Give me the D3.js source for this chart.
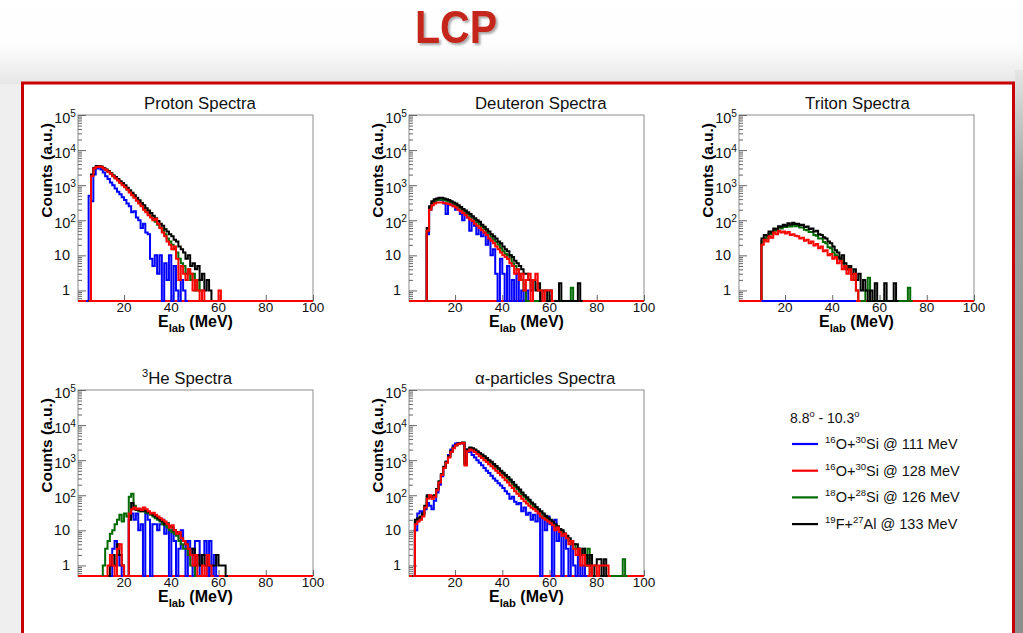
<!DOCTYPE html>
<html>
<head>
<meta charset="utf-8">
<script src="https://cdn.jsdelivr.net/npm/d3@7"></script>
<style>
body { margin: 0; background: #fff; }
svg { display: block; font-family: "Liberation Sans", Arial, sans-serif; }
text { white-space: pre; }
</style>
</head>
<body>
<svg id="chart" width="1023" height="633"></svg>
<script>
// ---- data (1 MeV bins, value per bin, first bin energy in *From) ----
// series order everywhere: blue, red, green, black
const seriesKeys = ["blue", "red", "green", "black"];
const legendLabels = ["^{16}O+^{30}Si @ 111 MeV", "^{16}O+^{30}Si @ 128 MeV", "^{18}O+^{28}Si @ 126 MeV", "^{19}F+^{27}Al @ 133 MeV"];
const angleLabel = "8.8^{o} - 10.3^{o}";
const panelTitles = ["Proton Spectra", "Deuteron Spectra", "Triton Spectra", "^{3}He Spectra", "α-particles Spectra"];
const xTicks = [20, 40, 60, 80, 100];
const yMajor = [1, 10, 100, 1000, 10000, 100000];
const yMajorLabels = ["1", "10", "10^{2}", "10^{3}", "10^{4}", "10^{5}"];

// proton
const protonFrom = [4, 5, 5, 5];
const protonBlue = [0,500,350,2000,3000,3200,2800,2300,1800,1500,1200,1000,800,650,550,450,380,300,250,170,180,120,100,60,80,45,40,8,5,10,3,10,0,6,2,10,0,5,1,0,2,1,0];
const protonRed = [0,1800,3000,3300,3400,3300,3000,2700,2400,2100,1800,1550,1350,1150,1000,870,740,620,520,440,360,300,250,200,170,140,120,100,110,80,60,45,35,25,20,15,18,8,2,5,3,2,4,3,1,2,1,0,1,0,0,0,0,0,0,1,0];
const protonGreen = [0,1900,3000,3300,3400,3300,3050,2750,2450,2150,1850,1600,1400,1200,1050,900,770,650,550,460,380,320,270,220,185,155,130,110,90,75,60,50,40,30,25,20,15,12,8,6,5,3,4,2,3,1,2,1,0];
const protonBlack = [0,2000,3100,3500,3500,3400,3100,2800,2500,2200,1900,1700,1500,1300,1150,1000,850,720,610,520,440,370,310,270,220,190,160,135,115,95,80,70,55,48,40,35,28,25,18,15,12,8,10,5,6,4,5,2,3,1,2,1,0];

// deuteron
const deuteronFrom = [7, 7, 7, 7];
const deuteronBlue = [0,40,200,300,350,380,400,380,300,150,300,280,250,200,230,150,100,160,120,50,90,70,40,60,35,45,20,30,10,15,3,0,8,3,0,5,0,2,0,3,0,1,0,1,0];
const deuteronRed = [0,50,200,270,300,320,320,320,310,300,290,270,250,230,200,180,160,140,120,105,95,80,70,60,52,45,38,30,26,22,18,15,12,10,9,8,6,5,3,4,2,3,1,2,3,0,2,3,1,1,0,1,1,1,0];
const deuteronGreen = [0,50,220,320,360,380,390,390,380,360,340,320,300,270,240,215,190,170,150,130,115,100,88,76,65,56,48,40,34,28,24,20,16,13,11,8,10,6,5,4,3,2,1,0,0,0,0,0,0,0,0,0,0,0,0,0,0,0,0,0,0,0,1.2,0];
const deuteronBlack = [0,60,250,350,400,420,440,440,420,400,380,350,320,300,270,240,210,190,170,150,130,115,100,90,75,65,55,48,40,35,30,25,22,18,15,13,10,9,7,6,5,4,3,3,2,1,2,1,1.6,0,1,1,0,1,0,0,0,1.6,0,0,0,0,0,0,0,1.6,0];

// triton
const tritonFrom = [10, 9, 9, 9];
const tritonBlue = [0,0,0,0,0,0,0,0,0,0,0,0,0,0,0,0,0,0,0,0,0,0,0,0,0,0,0,0,0,0,0,0,0,0,0,0,0,0,0,0];
const tritonRed = [0,20,28,25,35,32,45,40,50,45,48,42,46,38,40,36,35,30,32,26,28,22,25,19,21,16,18,13,14,10,11,8,9,6,7,4,5,3,4,2,3,1,0];
const tritonGreen = [0,25,32,30,42,40,52,50,62,58,68,64,72,66,74,68,70,62,62,54,52,46,46,38,36,30,30,24,22,17,16,12,10,9,8,6,5,4,5,3,2,1,0,0,0,1,2.3,0,0,0,0,0,0,0,0,0,0,0,0,0,0,0,0,1.2,0];
const tritonBlack = [0,30,38,36,48,45,58,55,68,65,75,70,82,76,85,78,80,72,74,64,66,56,58,48,50,40,38,33,30,25,22,18,14,12,8,10,6,4,5,3,4,2,3,1,2,1,0,1,0,1.6,0,0,0,1.6,0,0,0,1.6,0];

// 3He
const heFrom = [14, 12, 11, 13];
const heBlue = [0,3,5,2,1,0,0,0,25,30,20,30,10,15,0,30,20,0,15,15,10,15,20,8,15,0,10,5,0,3,10,5,0,5,3,0,5,5,0,2,5,0,5,0,2,0];
const heRed = [0,1,2,1,0,3,4,1,0,0,30,40,45,40,42,38,45,40,35,30,32,28,25,22,20,18,15,12,14,10,8,9,6,5,4,3,2,1,2,0,0,1,0,2,1,0];
const heGreen = [1,3,5,8,10,15,20,28,18,30,25,90,110,50,40,35,38,35,32,30,28,25,22,20,18,15,14,12,10,9,8,7,5,4,3,3,2,1,1,0];
const heBlack = [0,1,2,1,4,2,1,0,0,20,60,40,38,40,35,38,35,33,30,28,25,22,20,18,15,16,13,12,10,9,8,6,5,4,3,2,3,1,2,1,2,1,2,1,1,1,2,1,1,1,0];

// alpha
const alphaFrom = [2, 2, 2, 2];
const alphaBlue = [0,10,30,35,30,40,60,50,40,70,120,200,350,600,900,1400,2000,2600,3000,3100,3100,3000,1200,2000,1700,1400,1200,1000,850,720,600,500,430,360,300,260,220,190,160,130,110,80,90,65,55,60,35,45,28,32,20,28,18,30,0,25,10,25,15,0,20,5,10,0,8,3,0,5,1,0,3,0,1,0];
const alphaRed = [0,15,18,20,25,45,80,100,80,90,140,230,380,600,850,1200,1700,2200,2600,2900,3000,3100,700,1800,2000,1900,1700,1500,1300,1150,1000,880,770,670,580,500,430,370,320,270,230,190,160,130,110,95,80,68,58,50,44,40,35,30,25,22,20,18,16,14,10,12,9,7,8,6,4,5,3,2,3,1,2,1,1,0,1,1,0,1,1,1,1,0];
const alphaGreen = [0,18,20,22,28,48,90,95,90,95,145,240,390,620,870,1250,1750,2250,2650,2950,3100,3150,750,1900,2200,2100,1900,1700,1500,1350,1200,1050,920,820,710,620,540,460,400,340,300,250,210,180,150,125,105,90,78,66,56,48,42,36,31,27,23,20,18,15,13,11,10,9,8,6,5,4,4,3,3,2,3,1,3,0,0,0,0,0,0,0,0,0,0,0,0,0,0,1.5,0];
const alphaBlack = [0,20,22,25,30,50,100,90,95,100,150,250,400,650,900,1300,1800,2300,2700,3000,3100,3200,800,2000,2300,2200,2000,1800,1600,1450,1300,1150,1000,900,780,680,590,500,440,380,330,280,240,200,170,145,120,100,88,75,62,55,46,40,35,30,26,23,20,18,15,13,11,10,8,7,6,5,4,4,3,2,3,2,1,2,0,1,1.5,1.5,0,1.5,0];

// ---- layout ----
const colours = { blue: "#0000ff", red: "#ff0000", green: "#006a00", black: "#000000" };
const pw = 235, ph = 186;
const xDomain = [0.5, 100], yDomain = [0.5, 100000];

const panels = [
  { title: panelTitles[0], x0: 78, y0: 115, from: protonFrom, vals: [protonBlue, protonRed, protonGreen, protonBlack], order: ["blue", "green", "black", "red"] },
  { title: panelTitles[1], x0: 409, y0: 115, from: deuteronFrom, vals: [deuteronBlue, deuteronRed, deuteronGreen, deuteronBlack], order: ["blue", "green", "black", "red"] },
  { title: panelTitles[2], x0: 739, y0: 115, from: tritonFrom, vals: [tritonBlue, tritonRed, tritonGreen, tritonBlack], order: ["green", "black", "red", "blue"] },
  { title: panelTitles[3], x0: 78, y0: 390, from: heFrom, vals: [heBlue, heRed, heGreen, heBlack], order: ["blue", "green", "black", "red"] },
  { title: panelTitles[4], x0: 409, y0: 390, from: alphaFrom, vals: [alphaBlue, alphaRed, alphaGreen, alphaBlack], order: ["blue", "green", "black", "red"] }
];

const svg = d3.select("#chart");

// write text with ^{sup} and _{sub} pieces
function rich(sel, str, size, supScale) {
  const parts = str.split(/(\^\{[^}]*\}|_\{[^}]*\})/).filter(s => s.length);
  let prev = 0;
  parts.forEach(s => {
    let dy = 0, fs = size, t = s;
    if (s.startsWith("^{")) { t = s.slice(2, -1); fs = size * (supScale || 0.66); dy = -size * 0.42; }
    else if (s.startsWith("_{")) { t = s.slice(2, -1); fs = size * 0.7; dy = size * 0.32; }
    sel.append("tspan").attr("dy", dy - prev).attr("font-size", fs).text(t);
    prev = dy;
  });
  return sel;
}

// ---- page background ----
const defs = svg.append("defs");
const topGrad = defs.append("linearGradient").attr("id", "topGrad").attr("x1", 0).attr("y1", 0).attr("x2", 0).attr("y2", 1);
topGrad.append("stop").attr("offset", "0%").attr("stop-color", "#ffffff");
topGrad.append("stop").attr("offset", "55%").attr("stop-color", "#fdfdfd");
topGrad.append("stop").attr("offset", "100%").attr("stop-color", "#e6e6e6");
const sideGrad = defs.append("linearGradient").attr("id", "sideGrad").attr("x1", 0).attr("y1", 0).attr("x2", 0).attr("y2", 1);
sideGrad.append("stop").attr("offset", "0%").attr("stop-color", "#e6e6e6");
sideGrad.append("stop").attr("offset", "20%").attr("stop-color", "#a0a0a0");
sideGrad.append("stop").attr("offset", "100%").attr("stop-color", "#8c8c8c");
const shadow = defs.append("filter").attr("id", "shadow").attr("x", "-20%").attr("y", "-20%").attr("width", "140%").attr("height", "140%");
shadow.append("feDropShadow").attr("dx", 2).attr("dy", 2).attr("stdDeviation", 1.2).attr("flood-color", "#000").attr("flood-opacity", 0.35);

svg.append("rect").attr("width", 1023).attr("height", 633).attr("fill", "#efefef");
svg.append("rect").attr("width", 1023).attr("height", 84).attr("fill", "url(#topGrad)");
svg.append("rect").attr("x", 1015).attr("y", 70).attr("width", 8).attr("height", 563).attr("fill", "url(#sideGrad)");

svg.append("text").attr("x", 456).attr("y", 43).attr("text-anchor", "middle")
  .attr("font-family", "'Liberation Sans Narrow', 'Liberation Sans', Arial, sans-serif")
  .attr("font-weight", "bold").attr("font-size", 46).attr("fill", "#c4281c")
  .attr("textLength", 82).attr("lengthAdjust", "spacingAndGlyphs")
  .attr("filter", "url(#shadow)").text("LCP");

svg.append("rect").attr("x", 22.5).attr("y", 83).attr("width", 991).attr("height", 600)
  .attr("fill", "#ffffff").attr("stroke", "#c80000").attr("stroke-width", 3);

// ---- panels ----
panels.forEach((p, pi) => {
  const g = svg.append("g");
  const x = d3.scaleLinear().domain(xDomain).range([p.x0, p.x0 + pw]);
  const y = d3.scaleLog().domain(yDomain).range([p.y0 + ph, p.y0]).clamp(true);
  const yb = p.y0 + ph;

  g.append("rect").attr("x", p.x0).attr("y", p.y0).attr("width", pw).attr("height", ph)
    .attr("fill", "none").attr("stroke", "#8c8c8c").attr("stroke-width", 1);

  // log minor ticks
  const minor = [];
  for (let e = -1; e < 5; e++) for (let m = 2; m <= 9; m++) {
    const v = m * Math.pow(10, e);
    if (v >= yDomain[0] && v <= yDomain[1]) minor.push(v);
  }
  const yMinorAxis = d3.axisRight(y).tickValues(minor).tickSize(4).tickFormat("");
  const yMajorAxis = d3.axisRight(y).tickValues(yMajor).tickSize(8).tickFormat("");
  [yMinorAxis, yMajorAxis].forEach(ax => {
    const a = g.append("g").attr("transform", `translate(${p.x0},0)`).call(ax);
    a.select(".domain").remove();
    a.selectAll("line").attr("stroke", "#666");
  });
  const xAxis = d3.axisTop(x).tickValues(xTicks).tickSize(6).tickFormat("");
  const xa = g.append("g").attr("transform", `translate(0,${yb})`).call(xAxis);
  xa.select(".domain").remove();
  xa.selectAll("line").attr("stroke", "#666");

  // tick labels
  xTicks.forEach(v => {
    g.append("text").attr("x", x(v)).attr("y", yb + 10.5).attr("text-anchor", "middle")
      .attr("font-size", 13.5).attr("fill", "#111").text(v);
  });
  yMajor.forEach((v, i) => {
    const lab = yMajorLabels[i];
    const t = g.append("text").attr("text-anchor", "end").attr("fill", "#111");
    if (lab.includes("^")) {
      t.attr("x", p.x0 - 2).attr("y", y(v) + 8);
      rich(t, lab, 14.5, 0.7);
    } else {
      t.attr("x", p.x0 - 8).attr("y", y(v) + 5).attr("font-size", 14.5).text(lab);
    }
  });

  // titles
  const tt = g.append("text").attr("x", p.x0 + (pi === 3 ? 64 : 66)).attr("y", p.y0 - 6)
    .attr("font-size", 16.8).attr("fill", "#111");
  rich(tt, p.title, 16.8);
  g.append("text").attr("transform", `translate(${p.x0 - 26},${p.y0 + 8}) rotate(-90)`)
    .attr("text-anchor", "end").attr("font-weight", "bold").attr("font-size", 15.5).attr("fill", "#000")
    .text("Counts (a.u.)");
  const xl = g.append("text").attr("x", p.x0 + pw / 2).attr("y", yb + 26).attr("text-anchor", "middle")
    .attr("font-weight", "bold").attr("fill", "#000");
  rich(xl, "E_{lab} (MeV)", 16);

  // histograms
  const clipId = "clip" + pi;
  defs.append("clipPath").attr("id", clipId).append("rect")
    .attr("x", p.x0).attr("y", p.y0 - 1).attr("width", pw).attr("height", ph + 3);
  const plot = g.append("g").attr("clip-path", `url(#${clipId})`);
  plot.append("line").attr("x1", p.x0).attr("x2", p.x0 + pw).attr("y1", yb).attr("y2", yb)
    .attr("stroke", colours.red).attr("stroke-width", 2);
  const line = d3.line().x(d => x(d[0])).y(d => y(Math.max(d[1], yDomain[0]))).curve(d3.curveStepAfter);
  p.order.forEach(k => {
    const si = seriesKeys.indexOf(k);
    const start = p.from[si];
    const vals = p.vals[si];
    const pts = [[start, 0]].concat(vals.map((v, i) => [start + i, v]), [[start + vals.length, 0]]);
    plot.append("path").attr("d", line(pts)).attr("fill", "none")
      .attr("stroke", colours[k]).attr("stroke-width", 2).attr("stroke-linejoin", "miter");
  });
});

// ---- legend ----
const lg = svg.append("g");
rich(lg.append("text").attr("x", 790).attr("y", 423).attr("fill", "#111"), angleLabel, 14);
seriesKeys.forEach((k, i) => {
  const ly = 444 + i * 26.7;
  lg.append("line").attr("x1", 792).attr("x2", 818).attr("y1", ly).attr("y2", ly)
    .attr("stroke", colours[k]).attr("stroke-width", 2.2);
  rich(lg.append("text").attr("x", 825).attr("y", ly + 5).attr("fill", "#111"), legendLabels[i], 14.5);
});
</script>
</body>
</html>
